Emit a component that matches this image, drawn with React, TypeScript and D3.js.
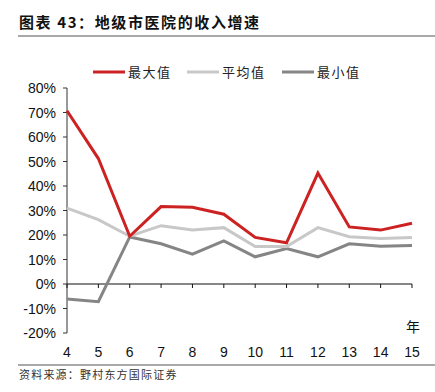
import React from "react";
import * as d3 from "d3";

const categories = [4, 5, 6, 7, 8, 9, 10, 11, 12, 13, 14, 15];
const maxValues = [70.7, 51.2, 19.5, 31.6, 31.3, 28.5, 19.0, 16.8, 45.3, 23.3, 22.0, 24.8];
const avgValues = [31.0, 26.3, 19.5, 23.8, 22.0, 23.0, 15.3, 15.3, 23.0, 19.3, 18.6, 19.0];
const minValues = [-6.1, -7.2, 19.2, 16.4, 12.2, 17.6, 11.1, 14.5, 11.1, 16.4, 15.4, 15.7];
const yTicks = [80, 70, 60, 50, 40, 30, 20, 10, 0, -10, -20];

const seriesNames = ["最大值", "平均值", "最小值"];
const seriesColors = ["#cc2222", "#c8c8c8", "#858585"];

export default function App() {
  const W = 435, H = 392;
  const x = d3.scaleLinear().domain([4, 15]).range([67, 412]);
  const y = d3.scaleLinear().domain([-20, 80]).range([333, 88]);
  const line = d3.line<number>().x((_, i) => x(categories[i])).y((d) => y(d));
  const series = [maxValues, avgValues, minValues];
  const legendX = [93, 187, 282];
  const cjk = "'Noto Sans CJK SC', sans-serif";
  const latin = "'Liberation Sans', Arial, sans-serif";
  return (
    <svg width={W} height={H} style={{ position: "absolute", left: 0, top: 0, background: "#fff" }}>
      <text x={19} y={28} fontFamily={cjk} fontWeight="bold" fontSize={15} letterSpacing={1.6} fill="#111">
        图表 43：地级市医院的收入增速
      </text>
      <line x1={18} x2={435} y1={36} y2={36} stroke="#8c8c8c" strokeWidth={1.5} />
      {seriesNames.map((n, i) => (
        <g key={n}>
          <line x1={legendX[i]} x2={legendX[i] + 32} y1={72} y2={72} stroke={seriesColors[i]} strokeWidth={3} />
          <text x={legendX[i] + 35} y={77} fontFamily={cjk} fontSize={13} letterSpacing={1.5} fill="#222">{n}</text>
        </g>
      ))}
      {/* y axis */}
      <line x1={67} x2={67} y1={y(80)} y2={y(-20)} stroke="#333" strokeWidth={1} />
      {yTicks.map((t) => (
        <g key={t}>
          <line x1={63} x2={67} y1={y(t)} y2={y(t)} stroke="#333" strokeWidth={1} />
          <text x={56} y={y(t) + 5} textAnchor="end" fontFamily={latin} fontSize={14} fill="#111">{t}%</text>
        </g>
      ))}
      {/* zero line */}
      <line x1={67} x2={412} y1={y(0)} y2={y(0)} stroke="#111" strokeWidth={1.2} />
      {categories.map((c) => (
        <g key={c}>
          <line x1={x(c)} x2={x(c)} y1={y(0)} y2={y(0) + 4} stroke="#111" strokeWidth={1} />
          <text x={x(c)} y={357} textAnchor="middle" fontFamily={latin} fontSize={14} fill="#111">{c}</text>
        </g>
      ))}
      <text x={413} y={332} textAnchor="middle" fontFamily={cjk} fontSize={14} fill="#111">年</text>
      {series.slice().reverse().map((s, ri) => {
        const i = series.length - 1 - ri;
        return <path key={i} d={line(s) || ""} fill="none" stroke={seriesColors[i]} strokeWidth={3} strokeLinejoin="miter" />;
      })}
      <line x1={18} x2={435} y1={365} y2={365} stroke="#8c8c8c" strokeWidth={1.5} />
      <text x={19} y={379} fontFamily={cjk} fontSize={11} letterSpacing={1.2} fill="#333">资料来源：野村东方国际证券</text>
    </svg>
  );
}
